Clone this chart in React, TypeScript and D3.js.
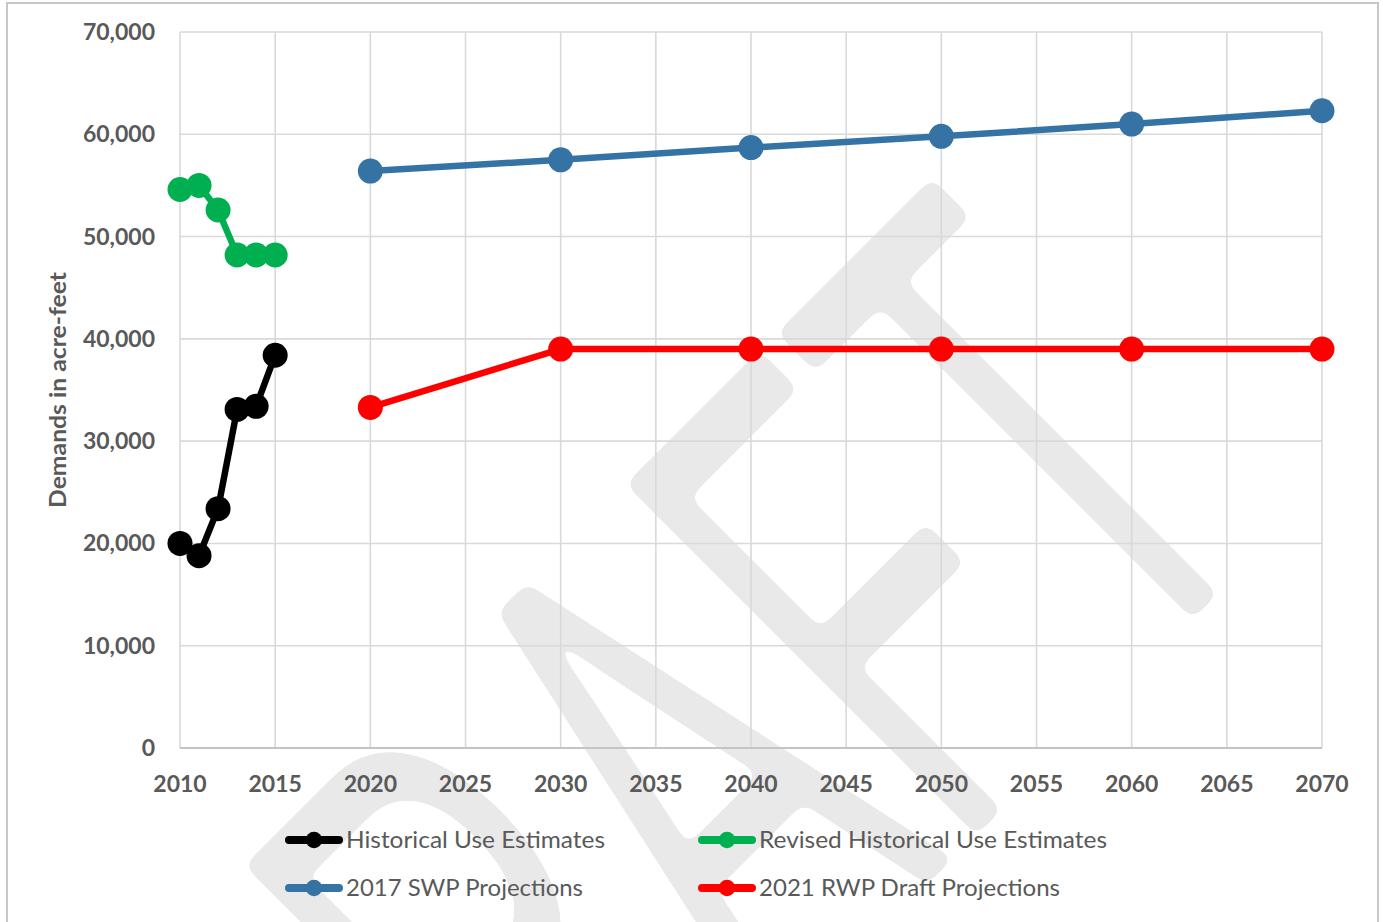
import React from "react";
import * as d3 from "d3";

// Series data (acre-feet)
const historicalYears = [2010, 2011, 2012, 2013, 2014, 2015];
const historicalUse = [20000, 18800, 23400, 33100, 33400, 38400];
const revisedHistoricalUse = [54600, 55000, 52600, 48200, 48200, 48200];

const projectionYears = [2020, 2030, 2040, 2050, 2060, 2070];
const swpProjections2017 = [56400, 57500, 58700, 59800, 61000, 62300];
const rwpDraftProjections2021 = [33300, 39000, 39000, 39000, 39000, 39000];

// Axis ticks
const xTickYears = [2010, 2015, 2020, 2025, 2030, 2035, 2040, 2045, 2050, 2055, 2060, 2065, 2070];
const yTickValues = [0, 10000, 20000, 30000, 40000, 50000, 60000, 70000];

const yAxisTitle = "Demands in acre-feet";
const watermarkText = "DRAFT";

type Series = { name: string; color: string; years: number[]; values: number[] };

const series: Series[] = [
  { name: "Historical Use Estimates", color: "#000000", years: historicalYears, values: historicalUse },
  { name: "Revised Historical Use Estimates", color: "#00b050", years: historicalYears, values: revisedHistoricalUse },
  { name: "2017 SWP Projections", color: "#3673a5", years: projectionYears, values: swpProjections2017 },
  { name: "2021 RWP Draft Projections", color: "#ff0000", years: projectionYears, values: rwpDraftProjections2021 },
];

const W = 1383;
const H = 922;
const plot = { left: 180, right: 1322, top: 32, bottom: 748 };

const labelFont = "Lato, 'Open Sans', 'Liberation Sans', sans-serif";
const textGray = "#595959";
const gridGray = "#d9d9d9";
const watermarkGray = "#e9e9e9";

// legend layout: two rows, two columns
const legendItems = [
  { s: 0, x: 285, y: 840, w: 259 },
  { s: 1, x: 698, y: 840, w: 348 },
  { s: 2, x: 285, y: 888, w: 237 },
  { s: 3, x: 698, y: 888, w: 301 },
];

export default function App() {
  const x = d3.scaleLinear().domain([2010, 2070]).range([plot.left, plot.right]);
  const y = d3.scaleLinear().domain([0, 70000]).range([plot.bottom, plot.top]);
  const fmt = d3.format(",");

  const line = d3
    .line<[number, number]>()
    .x((d) => x(d[0]))
    .y((d) => y(d[1]));

  return (
    <svg
      width={W}
      height={H}
      viewBox={`0 0 ${W} ${H}`}
      style={{ position: "absolute", left: 0, top: 0, background: "#fff" }}
    >
      <defs>
        {/* blur + threshold gives the watermark glyphs softly rounded corners */}
        <filter id="roundGlyphs" filterUnits="userSpaceOnUse" x={-300} y={-300} width={2000} height={1600}>
          <feGaussianBlur in="SourceAlpha" stdDeviation={7} result="blur" />
          <feComponentTransfer in="blur" result="mask">
            <feFuncA type="linear" slope={30} intercept={-14.5} />
          </feComponentTransfer>
          <feFlood floodColor={watermarkGray} result="fill" />
          <feComposite in="fill" in2="mask" operator="in" />
        </filter>
      </defs>

      <rect x={0} y={0} width={W} height={H} fill="#ffffff" />

      {/* watermark */}
      <g filter="url(#roundGlyphs)">
        <g transform="translate(832,980) rotate(-45) scale(1,1.86)">
          <text
            x={0}
            y={0}
            textAnchor="middle"
            fontFamily="'Liberation Sans', Arial, sans-serif"
            fontSize={388}
            fill={watermarkGray}
          >
            {watermarkText}
          </text>
        </g>
      </g>

      {/* chart border */}
      <rect x={7} y={3} width={1371} height={940} fill="none" stroke="#c8c8c8" strokeWidth={2} />

      {/* gridlines */}
      <g stroke={gridGray} strokeWidth={1.6}>
        {yTickValues.map((v) => (
          <line key={`gy${v}`} x1={plot.left} x2={plot.right} y1={y(v)} y2={y(v)} />
        ))}
        {xTickYears.map((t) => (
          <line key={`gx${t}`} x1={x(t)} x2={x(t)} y1={plot.top} y2={plot.bottom} />
        ))}
      </g>
      <line x1={plot.left} x2={plot.right} y1={y(0)} y2={y(0)} stroke="#c4c4c4" strokeWidth={1.8} />

      {/* y tick labels */}
      <g fontFamily={labelFont} fontWeight={700} fontSize={23} fill={textGray} textAnchor="end">
        {yTickValues.map((v) => (
          <text key={`ty${v}`} x={155} y={y(v) + 8}>
            {fmt(v)}
          </text>
        ))}
      </g>

      {/* x tick labels */}
      <g fontFamily={labelFont} fontWeight={700} fontSize={23} fill={textGray} textAnchor="middle">
        {xTickYears.map((t) => (
          <text key={`tx${t}`} x={x(t)} y={792}>
            {t}
          </text>
        ))}
      </g>

      {/* y axis title */}
      <text
        transform="translate(66,390) rotate(-90)"
        textAnchor="middle"
        fontFamily={labelFont}
        fontWeight={700}
        fontSize={22}
        fill={textGray}
        textLength={236}
        lengthAdjust="spacingAndGlyphs"
      >
        {yAxisTitle}
      </text>

      {/* series */}
      {series.map((s) => {
        const pts = s.years.map((yr, i) => [yr, s.values[i]] as [number, number]);
        return (
          <g key={s.name}>
            <path d={line(pts) ?? ""} fill="none" stroke={s.color} strokeWidth={6.5} strokeLinejoin="round" />
            {pts.map((p) => (
              <circle key={p[0]} cx={x(p[0])} cy={y(p[1])} r={12.5} fill={s.color} />
            ))}
          </g>
        );
      })}

      {/* legend */}
      {legendItems.map((it) => {
        const s = series[it.s];
        return (
          <g key={s.name}>
            <line
              x1={it.x + 4}
              x2={it.x + 54}
              y1={it.y}
              y2={it.y}
              stroke={s.color}
              strokeWidth={8}
              strokeLinecap="round"
            />
            <circle cx={it.x + 29} cy={it.y} r={8.3} fill={s.color} />
            <text
              x={it.x + 61}
              y={it.y + 8}
              fontFamily={labelFont}
              fontSize={23}
              fill={textGray}
              textLength={it.w}
              lengthAdjust="spacingAndGlyphs"
            >
              {s.name}
            </text>
          </g>
        );
      })}
    </svg>
  );
}
